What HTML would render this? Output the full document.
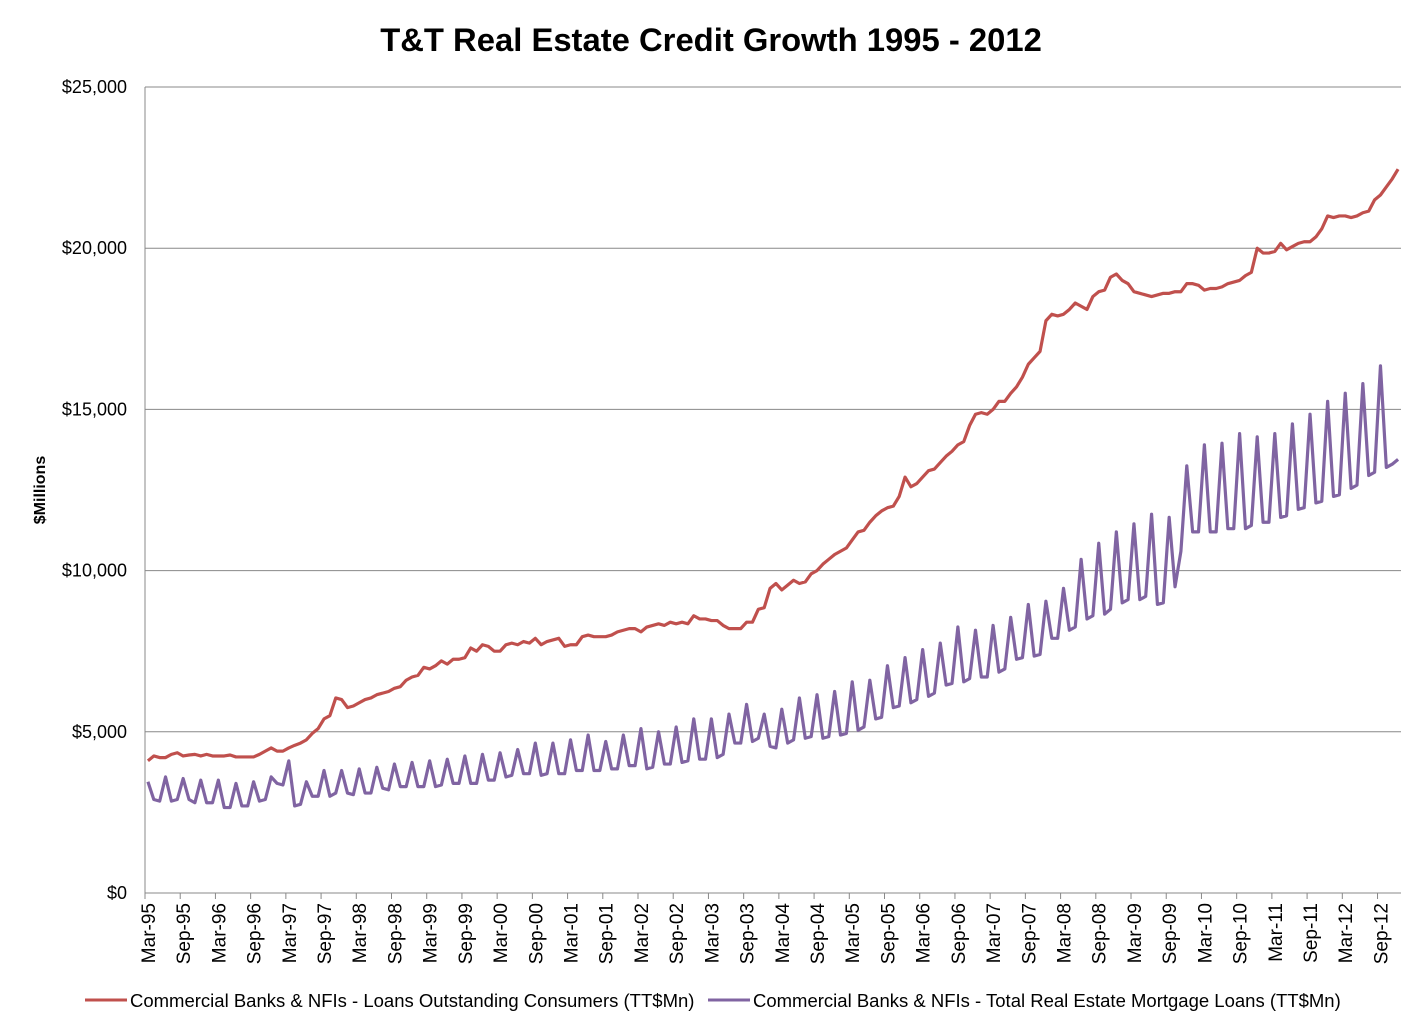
<!DOCTYPE html>
<html><head><meta charset="utf-8"><style>
html,body{margin:0;padding:0;background:#fff;}
svg{display:block;font-family:"Liberation Sans",sans-serif;}
</style></head><body>
<svg id="chart" width="1423" height="1033">
<text x="711" y="51" text-anchor="middle" font-size="32.8" font-weight="bold" fill="#000">T&amp;T Real Estate Credit Growth 1995 - 2012</text>
<text transform="translate(45,490) rotate(-90)" text-anchor="middle" font-size="16" font-weight="bold">$Millions</text>
<g id="grid"></g><g id="axes"></g><g id="series"></g>
<g>
<line x1="85" y1="1000" x2="127" y2="1000" stroke="#c0504d" stroke-width="3"/>
<text x="130" y="1007" font-size="18.5">Commercial Banks &amp; NFIs - Loans Outstanding Consumers (TT$Mn)</text>
<line x1="708" y1="1000" x2="750" y2="1000" stroke="#8064a2" stroke-width="3"/>
<text x="753" y="1007" font-size="18.5">Commercial Banks &amp; NFIs - Total Real Estate Mortgage Loans (TT$Mn)</text>
</g>
</svg>
<script>
const yTicks=[0,5000,10000,15000,20000,25000];
const startYear=1995, startMonth=2; // Mar-95
const consumerLoans=[4100,4250,4200,4200,4300,4350,4250,4280,4300,4250,
4300,4250,4250,4250,4280,4220,4220,4220,4220,4300,4400,4500,
4400,4400,4500,4580,4650,4750,4950,5100,5400,5500,6050,6000,
5750,5800,5900,6000,6050,6150,6200,6250,6350,6400,6600,6700,
6750,7000,6950,7050,7200,7100,7250,7250,7300,7600,7500,7700,
7650,7500,7500,7700,7750,7700,7800,7750,7900,7700,7800,7850,
7900,7650,7700,7700,7950,8000,7950,7950,7950,8000,8100,8150,
8200,8200,8100,8250,8300,8350,8300,8400,8350,8400,8350,8600,
8500,8500,8450,8450,8300,8200,8200,8200,8400,8400,8800,8850,
9450,9600,9400,9550,9700,9600,9650,9900,10000,10200,10350,10500,
10600,10700,10950,11200,11250,11500,11700,11850,11950,12000,12300,12900,
12600,12700,12900,13100,13150,13350,13550,13700,13900,14000,14500,14850,
14900,14850,15000,15250,15250,15500,15700,16000,16400,16600,16800,17750,
17950,17900,17950,18100,18300,18200,18100,18500,18650,18700,19100,19200,
19000,18900,18650,18600,18550,18500,18550,18600,18600,18650,18650,18900,
18900,18850,18700,18750,18750,18800,18900,18950,19000,19150,19250,20000,
19850,19850,19900,20150,19950,20050,20150,20200,20200,20350,20600,21000,
20950,21000,21000,20950,21000,21100,21150,21500,21650,21900,22150,22450];
const mortgageLoans=[3450,2900,2850,3600,2850,2900,3550,2900,2800,3500,
2800,2800,3500,2650,2650,3400,2700,2700,3450,2850,2900,3600,
3400,3350,4100,2700,2750,3450,3000,3000,3800,3000,3100,3800,
3100,3050,3850,3100,3100,3900,3250,3200,4000,3300,3300,4050,
3300,3300,4100,3300,3350,4150,3400,3400,4250,3400,3400,4300,
3500,3500,4350,3600,3650,4450,3700,3700,4650,3650,3700,4650,
3700,3700,4750,3800,3800,4900,3800,3800,4700,3850,3850,4900,
3950,3950,5100,3850,3900,5000,4000,4000,5150,4050,4100,5400,
4150,4150,5400,4200,4300,5550,4650,4650,5850,4700,4800,5550,
4550,4500,5700,4650,4750,6050,4800,4850,6150,4800,4850,6250,
4900,4950,6550,5050,5150,6600,5400,5450,7050,5750,5800,7300,
5900,6000,7550,6100,6200,7750,6450,6500,8250,6550,6650,8150,
6700,6700,8300,6850,6950,8550,7250,7300,8950,7350,7400,9050,
7900,7900,9450,8150,8250,10350,8500,8600,10850,8650,8800,11200,
9000,9100,11450,9100,9200,11750,8950,9000,11650,9500,10600,13250,
11200,11200,13900,11200,11200,13950,11300,11300,14250,11300,11400,14150,
11500,11500,14250,11650,11700,14550,11900,11950,14850,12100,12150,15250,
12300,12350,15500,12550,12650,15800,12950,13050,16350,13200,13300,13450];
const monthNames=["Jan","Feb","Mar","Apr","May","Jun","Jul","Aug","Sep","Oct","Nov","Dec"];
const L=145,R=1401,T=87,B=893,maxY=25000;
const n=consumerLoans.length, cw=(R-L)/n;
const xs=i=>L+cw*(i+0.5);
const ys=v=>B-(v/maxY)*(B-T);
const NS="http://www.w3.org/2000/svg";
function mk(tag,attrs,parent){const e=document.createElementNS(NS,tag);for(const k in attrs)e.setAttribute(k,attrs[k]);parent.appendChild(e);return e;}
const grid=document.getElementById('grid'),axes=document.getElementById('axes'),series=document.getElementById('series');
yTicks.forEach(v=>{
  if(v>0){const g=mk('line',{x1:L,x2:R,y1:ys(v),y2:ys(v),stroke:'#888','stroke-width':1},grid);
  
  }
  const t=mk('text',{x:127,y:ys(v)+6,'text-anchor':'end','font-size':18},axes);
  t.textContent='$'+v.toLocaleString('en-US');
  
  
});
const ya=mk('line',{x1:L,x2:L,y1:T,y2:B,stroke:'#888','stroke-width':1},axes);


const xa=mk('line',{x1:L,x2:R,y1:B,y2:B,stroke:'#888','stroke-width':1},axes);


for(let i=0;i<n;i+=6){
  const tx=L+cw*i;
  const tk=mk('line',{x1:tx,x2:tx,y1:B,y2:B+6,stroke:'#888'},axes);
  
  
  const m=(startMonth+i)%12, yr=startYear+Math.floor((startMonth+i)/12);
  const lab=monthNames[m]+'-'+String(yr%100).padStart(2,'0');
  const t=mk('text',{transform:`translate(${xs(i)+7},${B+10}) rotate(-90)`,'text-anchor':'end','font-size':19},axes);
  t.textContent=lab;
  
  
}
function line(arr,color,name){
  const d=arr.map((v,i)=>(i?'L':'M')+xs(i).toFixed(2)+','+ys(v).toFixed(2)).join('');
  const p=mk('path',{d:d,fill:'none',stroke:color,'stroke-width':3.2,'stroke-linejoin':'round'},series);
  
  
}
line(mortgageLoans,'#8064a2','mortgage-loans-line');
line(consumerLoans,'#c0504d','consumer-loans-line');
</script>
</body></html>
